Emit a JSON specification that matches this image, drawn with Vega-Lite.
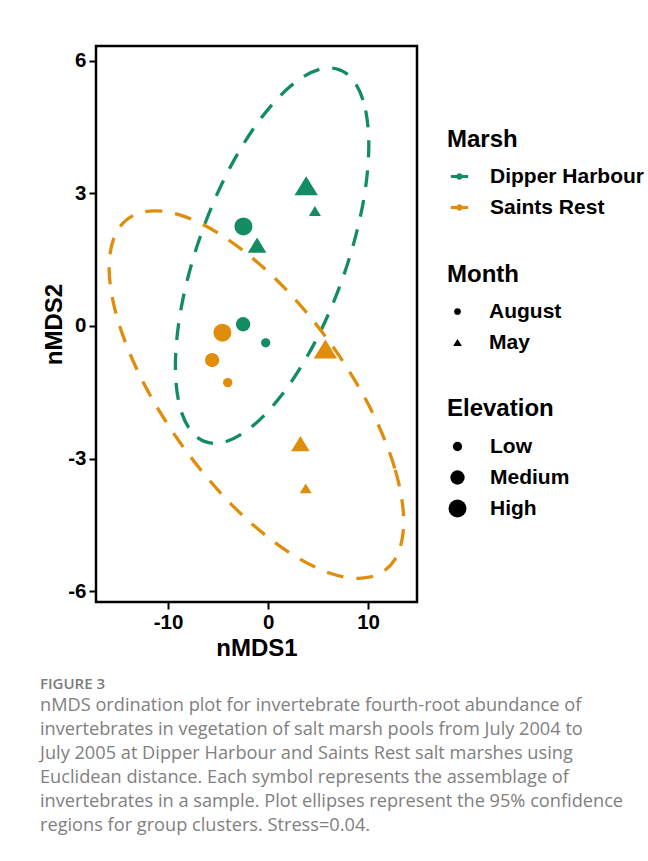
{
  "$schema": "https://vega.github.io/schema/vega-lite/v6.json",
  "width": 321,
  "height": 556,
  "autosize": {"type": "none"},
  "padding": {"left": 96, "top": 46, "right": 231, "bottom": 259},
  "background": "white",
  "datasets": {
    "points": [
      {"Marsh": "Dipper Harbour", "Month": "August", "Elevation": "High", "nMDS1": -2.47, "nMDS2": 2.25},
      {"Marsh": "Dipper Harbour", "Month": "August", "Elevation": "Medium", "nMDS1": -2.5, "nMDS2": 0.04},
      {"Marsh": "Dipper Harbour", "Month": "August", "Elevation": "Low", "nMDS1": -0.24, "nMDS2": -0.38},
      {"Marsh": "Dipper Harbour", "Month": "May", "Elevation": "High", "nMDS1": 3.81, "nMDS2": 3.17},
      {"Marsh": "Dipper Harbour", "Month": "May", "Elevation": "Medium", "nMDS1": -1.1, "nMDS2": 1.83},
      {"Marsh": "Dipper Harbour", "Month": "May", "Elevation": "Low", "nMDS1": 4.68, "nMDS2": 2.6},
      {"Marsh": "Saints Rest", "Month": "August", "Elevation": "High", "nMDS1": -4.57, "nMDS2": -0.15},
      {"Marsh": "Saints Rest", "Month": "August", "Elevation": "Medium", "nMDS1": -5.6, "nMDS2": -0.77},
      {"Marsh": "Saints Rest", "Month": "August", "Elevation": "Low", "nMDS1": -4.04, "nMDS2": -1.28},
      {"Marsh": "Saints Rest", "Month": "May", "Elevation": "High", "nMDS1": 5.73, "nMDS2": -0.52},
      {"Marsh": "Saints Rest", "Month": "May", "Elevation": "Medium", "nMDS1": 3.23, "nMDS2": -2.66},
      {"Marsh": "Saints Rest", "Month": "May", "Elevation": "Low", "nMDS1": 3.76, "nMDS2": -3.67}
    ],
    "ellipses": [
      {"Marsh": "Dipper Harbour", "i": 0, "nMDS1": 10.07, "nMDS2": 4.09},
      {"Marsh": "Dipper Harbour", "i": 1, "nMDS1": 9.49, "nMDS2": 5.11},
      {"Marsh": "Dipper Harbour", "i": 2, "nMDS1": 7.81, "nMDS2": 5.71},
      {"Marsh": "Dipper Harbour", "i": 3, "nMDS1": 5.24, "nMDS2": 5.81},
      {"Marsh": "Dipper Harbour", "i": 4, "nMDS1": 2.08, "nMDS2": 5.39},
      {"Marsh": "Dipper Harbour", "i": 5, "nMDS1": -1.28, "nMDS2": 4.52},
      {"Marsh": "Dipper Harbour", "i": 6, "nMDS1": -4.44, "nMDS2": 3.3},
      {"Marsh": "Dipper Harbour", "i": 7, "nMDS1": -7.01, "nMDS2": 1.87},
      {"Marsh": "Dipper Harbour", "i": 8, "nMDS1": -8.69, "nMDS2": 0.41},
      {"Marsh": "Dipper Harbour", "i": 9, "nMDS1": -9.27, "nMDS2": -0.91},
      {"Marsh": "Dipper Harbour", "i": 10, "nMDS1": -8.69, "nMDS2": -1.93},
      {"Marsh": "Dipper Harbour", "i": 11, "nMDS1": -7.01, "nMDS2": -2.53},
      {"Marsh": "Dipper Harbour", "i": 12, "nMDS1": -4.44, "nMDS2": -2.63},
      {"Marsh": "Dipper Harbour", "i": 13, "nMDS1": -1.28, "nMDS2": -2.21},
      {"Marsh": "Dipper Harbour", "i": 14, "nMDS1": 2.08, "nMDS2": -1.34},
      {"Marsh": "Dipper Harbour", "i": 15, "nMDS1": 5.24, "nMDS2": -0.12},
      {"Marsh": "Dipper Harbour", "i": 16, "nMDS1": 7.81, "nMDS2": 1.31},
      {"Marsh": "Dipper Harbour", "i": 17, "nMDS1": 9.49, "nMDS2": 2.77},
      {"Marsh": "Saints Rest", "i": 0, "nMDS1": 13.56, "nMDS2": -4.42},
      {"Marsh": "Saints Rest", "i": 1, "nMDS1": 12.67, "nMDS2": -3.22},
      {"Marsh": "Saints Rest", "i": 2, "nMDS1": 10.11, "nMDS2": -1.81},
      {"Marsh": "Saints Rest", "i": 3, "nMDS1": 6.2, "nMDS2": -0.38},
      {"Marsh": "Saints Rest", "i": 4, "nMDS1": 1.39, "nMDS2": 0.92},
      {"Marsh": "Saints Rest", "i": 5, "nMDS1": -3.73, "nMDS2": 1.91},
      {"Marsh": "Saints Rest", "i": 6, "nMDS1": -8.54, "nMDS2": 2.49},
      {"Marsh": "Saints Rest", "i": 7, "nMDS1": -12.45, "nMDS2": 2.58},
      {"Marsh": "Saints Rest", "i": 8, "nMDS1": -15.01, "nMDS2": 2.18},
      {"Marsh": "Saints Rest", "i": 9, "nMDS1": -15.9, "nMDS2": 1.32},
      {"Marsh": "Saints Rest", "i": 10, "nMDS1": -15.01, "nMDS2": 0.12},
      {"Marsh": "Saints Rest", "i": 11, "nMDS1": -12.45, "nMDS2": -1.29},
      {"Marsh": "Saints Rest", "i": 12, "nMDS1": -8.54, "nMDS2": -2.72},
      {"Marsh": "Saints Rest", "i": 13, "nMDS1": -3.73, "nMDS2": -4.02},
      {"Marsh": "Saints Rest", "i": 14, "nMDS1": 1.39, "nMDS2": -5.01},
      {"Marsh": "Saints Rest", "i": 15, "nMDS1": 6.2, "nMDS2": -5.59},
      {"Marsh": "Saints Rest", "i": 16, "nMDS1": 10.11, "nMDS2": -5.68},
      {"Marsh": "Saints Rest", "i": 17, "nMDS1": 12.67, "nMDS2": -5.28}
    ]
  },
  "layer": [
    {
      "data": {"name": "points"},
      "mark": {"type": "point", "filled": true, "opacity": 1, "strokeWidth": 0},
      "encoding": {
        "x": {"field": "nMDS1", "type": "quantitative", "scale": {"domain": [-17.21, 14.89], "nice": false, "zero": false},
              "axis": {"values": [-10, 0, 10], "title": "nMDS1", "labelExpr": "datum.value < 0 ? '-' + abs(datum.value) : '' + datum.value"}},
        "y": {"field": "nMDS2", "type": "quantitative", "scale": {"domain": [-6.24, 6.33], "nice": false, "zero": false},
              "axis": {"values": [-6, -3, 0, 3, 6], "title": "nMDS2", "labelExpr": "datum.value < 0 ? '-' + abs(datum.value) : '' + datum.value"}},
        "color": {"field": "Marsh", "type": "nominal",
                  "scale": {"domain": ["Dipper Harbour", "Saints Rest"], "range": ["#138C61", "#E08D0B"]},
                  "legend": {"orient": "none", "legendX": 351, "legendY": 82, "title": "Marsh",
                             "symbolType": "M-1,-0.17L1,-0.17L1,0.17L-1,0.17Z M0.38,0A0.38,0.38,0,1,1,-0.38,0A0.38,0.38,0,1,1,0.38,0Z",
                             "symbolSize": 300, "symbolStrokeWidth": 0, "symbolOpacity": 1, "rowPadding": 9, "titlePadding": 14, "labelOffset": 20, "symbolOffset": 2}},
        "shape": {"field": "Month", "type": "nominal",
                  "scale": {"domain": ["August", "May"], "range": ["circle", "M0,-1.06L1.3,1.06L-1.3,1.06Z"]},
                  "legend": {"orient": "none", "legendX": 351, "legendY": 217, "title": "Month",
                             "symbolSize": 45, "symbolFillColor": "black", "symbolStrokeColor": "black", "symbolStrokeWidth": 0, "symbolOpacity": 1,
                             "rowPadding": 9, "titlePadding": 14, "labelOffset": 21, "symbolOffset": 0}},
        "size": {"field": "Elevation", "type": "ordinal",
                 "scale": {"domain": ["Low", "Medium", "High"], "range": [86, 324, 576]},
                 "legend": {"orient": "none", "legendX": 351, "legendY": 351, "title": "Elevation",
                            "symbolFillColor": "black", "symbolStrokeColor": "black", "symbolStrokeWidth": 0, "symbolOpacity": 1,
                            "rowPadding": 9, "titlePadding": 15, "labelOffset": 22, "symbolOffset": 0}}
      }
    },
    {
      "data": {"name": "ellipses"},
      "mark": {"type": "line", "interpolate": "cardinal-closed", "strokeWidth": 3.3, "strokeDash": [17, 13]},
      "encoding": {
        "x": {"field": "nMDS1", "type": "quantitative"},
        "y": {"field": "nMDS2", "type": "quantitative"},
        "color": {"field": "Marsh", "type": "nominal"},
        "detail": {"field": "Marsh"},
        "order": {"field": "i", "type": "quantitative"}
      }
    }
  ],
  "title": {
    "text": "FIGURE 3",
    "subtitle": [
      "nMDS ordination plot for invertebrate fourth-root abundance of",
      "invertebrates in vegetation of salt marsh pools from July 2004 to",
      "July 2005 at Dipper Harbour and Saints Rest salt marshes using",
      "Euclidean distance. Each symbol represents the assemblage of",
      "invertebrates in a sample. Plot ellipses represent the 95% confidence",
      "regions for group clusters. Stress=0.04."
    ],
    "orient": "bottom",
    "anchor": "start",
    "frame": "group",
    "dx": -56,
    "offset": 16,
    "font": "Open Sans",
    "fontSize": 15,
    "fontWeight": 600,
    "color": "#7b7b7b",
    "subtitleFont": "Open Sans",
    "subtitleFontSize": 18.2,
    "subtitleFontWeight": "normal",
    "subtitleColor": "#808080",
    "subtitleLineHeight": 24,
    "subtitlePadding": 5
  },
  "config": {
    "view": {"stroke": "black", "strokeWidth": 2.5},
    "axis": {
      "domain": false,
      "grid": false,
      "ticks": true,
      "tickColor": "black",
      "tickWidth": 2,
      "tickSize": 7,
      "labelFont": "Liberation Sans",
      "labelFontSize": 20.5,
      "labelFontWeight": "bold",
      "labelColor": "black",
      "labelPadding": 3,
      "titleFont": "Liberation Sans",
      "titleFontSize": 24,
      "titleFontWeight": "bold",
      "titleColor": "black"
    },
    "axisX": {"titlePadding": 4},
    "axisY": {"titlePadding": 1},
    "legend": {
      "titleFont": "Liberation Sans",
      "titleFontSize": 24,
      "titleFontWeight": "bold",
      "titleColor": "black",
      "labelFont": "Liberation Sans",
      "labelFontSize": 21,
      "labelFontWeight": "bold",
      "labelColor": "black",
      "padding": 0
    }
  }
}
